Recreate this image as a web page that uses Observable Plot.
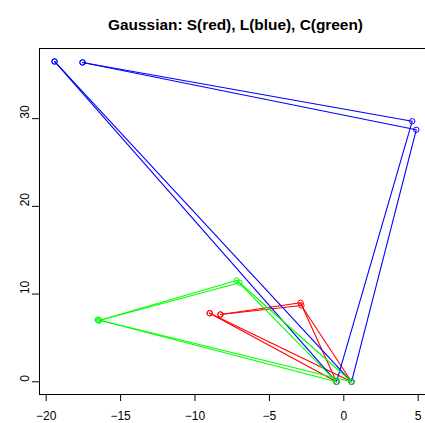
<!DOCTYPE html>
<html><head><meta charset="utf-8">
<script src="https://cdn.jsdelivr.net/npm/d3@7"></script>
<script src="https://cdn.jsdelivr.net/npm/@observablehq/plot@0.6"></script>
<style>body{margin:0;background:#fff;overflow:hidden}</style>
</head><body><div id="chart"></div>
<script>
const title = "Gaussian: S(red), L(blue), C(green)";
const xTicks = [-20, -15, -10, -5, 0, 5];
const yTicks = [0, 10, 20, 30];

// S (red): two paths, each start -> bottom point -> upper point -> end
const sX1 = [-9.01, -0.49, -2.91, -8.29];
const sY1 = [7.82, 0, 9.01, 7.67];
const sX2 = [-9.01, 0.52, -2.85, -8.29];
const sY2 = [7.82, 0, 8.70, 7.67];

// L (blue)
const lX1 = [-19.44, -0.49, 4.60, -17.56];
const lY1 = [36.52, 0, 29.71, 36.41];
const lX2 = [-19.44, 0.52, 4.87, -17.56];
const lY2 = [36.52, 0, 28.73, 36.41];

// C (green)
const cX1 = [-16.53, -0.49, -7.21, -16.45];
const cY1 = [7.07, 0, 11.55, 6.99];
const cX2 = [-16.53, 0.52, -7.01, -16.45];
const cY2 = [7.07, 0, 11.29, 6.99];

const colS = "#FF0000", colL = "#0000FF", colC = "#00FF00";

function rows(name, xs, ys) { return xs.map((x, i) => ({series: name, x, y: ys[i]})); }
const S = [...rows("S1", sX1, sY1), ...rows("S2", sX2, sY2)];
const L = [...rows("L1", lX1, lY1), ...rows("L2", lX2, lY2)];
const C = [...rows("C1", cX1, cY1), ...rows("C2", cX2, cY2)];

const xDom = [-20.45, 5];
const yDom = [-1.45, 38.0];

const chart = Plot.plot({
  width: 425, height: 423,
  marginTop: 48, marginBottom: 29, marginLeft: 39, marginRight: 0,
  style: {fontFamily: "'Liberation Sans', Arial, sans-serif", fontSize: "12px", background: "white", color: "black"},
  x: {domain: xDom, range: [39, 417.7], label: null},
  y: {domain: yDom, label: null},
  marks: [
    Plot.ruleY([yDom[0], yDom[1]], {stroke: "black", strokeWidth: 1}),
    Plot.ruleX([xDom[0]], {stroke: "black", strokeWidth: 1}),
    Plot.axisX({ticks: xTicks, tickSize: 7, tickPadding: 10, fontSize: 12, label: null}),
    Plot.axisY({ticks: yTicks, tickSize: 7, fill: "none", label: null}),
    Plot.text(yTicks, {y: d => d, frameAnchor: "left", dx: -14, rotate: -90, text: d => String(d), fontSize: 12}),
    Plot.line(S, {x: "x", y: "y", z: "series", stroke: colS, strokeWidth: 1.1}),
    Plot.dot(S, {x: "x", y: "y", r: 2.7, stroke: colS, fill: "none", strokeWidth: 1}),
    Plot.line(L, {x: "x", y: "y", z: "series", stroke: colL, strokeWidth: 1.1}),
    Plot.dot(L, {x: "x", y: "y", r: 2.7, stroke: colL, fill: "none", strokeWidth: 1}),
    Plot.line(C, {x: "x", y: "y", z: "series", stroke: colC, strokeWidth: 1.1}),
    Plot.dot(C, {x: "x", y: "y", r: 2.7, stroke: colC, fill: "none", strokeWidth: 1}),
    Plot.text([title], {frameAnchor: "top", dx: 3, dy: -29, fontWeight: "bold", fontSize: 15.4})
  ]
});
document.getElementById("chart").appendChild(chart);
</script>
</body></html>
